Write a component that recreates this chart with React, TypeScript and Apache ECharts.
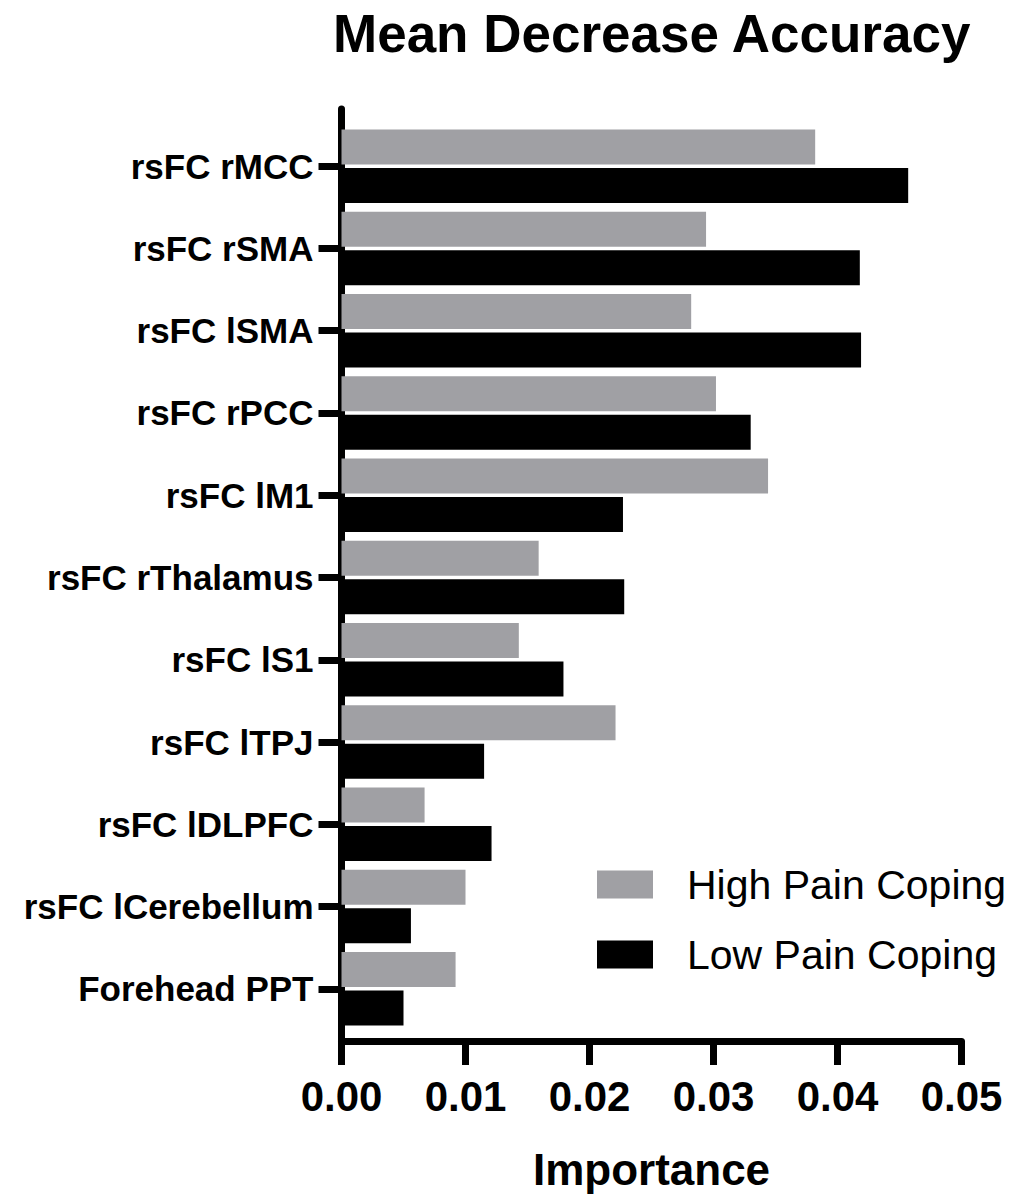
import React, { useEffect, useRef } from "react";
import * as echarts from "echarts";

const categories = [
  "rsFC rMCC",
  "rsFC rSMA",
  "rsFC lSMA",
  "rsFC rPCC",
  "rsFC lM1",
  "rsFC rThalamus",
  "rsFC lS1",
  "rsFC lTPJ",
  "rsFC lDLPFC",
  "rsFC lCerebellum",
  "Forehead PPT",
];
const highPainCoping = [0.0382, 0.0294, 0.0282, 0.0302, 0.0344, 0.0159, 0.0143, 0.0221, 0.0067, 0.01, 0.0092];
const lowPainCoping = [0.0457, 0.0418, 0.0419, 0.033, 0.0227, 0.0228, 0.0179, 0.0115, 0.0121, 0.0056, 0.005];
const xMin = 0;
const xMax = 0.05;
const xInterval = 0.01;

const FONT = "'Liberation Sans', Arial, Helvetica, sans-serif";

export default function App() {
  const ref = useRef<HTMLDivElement>(null);
  useEffect(() => {
    if (!ref.current) return;
    const chart = echarts.init(ref.current, null, { renderer: "svg" });
    chart.setOption({
      animation: false,
      backgroundColor: "#ffffff",
      title: {
        text: "Mean Decrease Accuracy",
        left: 333,
        top: 7,
        padding: 0,
        textStyle: { fontSize: 53, fontWeight: "bold", color: "#000", fontFamily: FONT },
      },
      legend: {
        data: ["High Pain Coping", "Low Pain Coping"],
        orient: "vertical",
        left: 597,
        top: 864,
        padding: 0,
        itemWidth: 56,
        itemHeight: 28,
        itemGap: 29,
        icon: "rect",
        textStyle: { fontSize: 41, color: "#000", fontFamily: FONT, padding: [0, 0, 0, 29] },
      },
      grid: [
        { left: 341.5, top: 125, width: 620, height: 905 },
        { left: 341.5, top: 109, width: 620, height: 932 },
      ],
      xAxis: [
        { gridIndex: 0, type: "value", min: xMin, max: xMax, show: false },
        {
          gridIndex: 1,
          type: "value",
          min: xMin,
          max: xMax,
          interval: xInterval,
          axisLine: { show: true, onZero: false, lineStyle: { color: "#000", width: 7 } },
          axisTick: { show: true, length: 24, lineStyle: { color: "#000", width: 7 } },
          axisLabel: {
            formatter: (v: number) => v.toFixed(2),
            fontSize: 42,
            fontWeight: "bold",
            color: "#000",
            fontFamily: FONT,
            margin: 34,
          },
          splitLine: { show: false },
          name: "Importance",
          nameLocation: "middle",
          nameGap: 106,
          nameTextStyle: { fontSize: 44, fontWeight: "bold", color: "#000", fontFamily: FONT },
        },
      ],
      yAxis: [
        {
          gridIndex: 0,
          type: "category",
          data: categories,
          inverse: true,
          axisLine: { show: false },
          axisTick: { show: true, alignWithLabel: true, interval: 0, length: 23, lineStyle: { color: "#000", width: 7 } },
          axisLabel: {
            interval: 0,
            fontSize: 35,
            fontWeight: "bold",
            color: "#000",
            fontFamily: FONT,
            margin: 28,
          },
          splitLine: { show: false },
        },
        {
          gridIndex: 1,
          type: "value",
          min: 0,
          max: 1,
          axisLine: { show: true, onZero: false, lineStyle: { color: "#000", width: 7 } },
          axisTick: { show: false },
          axisLabel: { show: false },
          splitLine: { show: false },
        },
      ],
      series: [
        {
          name: "High Pain Coping",
          type: "bar",
          xAxisIndex: 0,
          yAxisIndex: 0,
          data: highPainCoping,
          barWidth: 35,
          barGap: "10%",
          itemStyle: { color: "#a0a0a4" },
        },
        {
          name: "Low Pain Coping",
          type: "bar",
          xAxisIndex: 0,
          yAxisIndex: 0,
          data: lowPainCoping,
          barWidth: 35,
          barGap: "10%",
          itemStyle: { color: "#000000" },
        },
      ],
    });
    return () => chart.dispose();
  }, []);
  return (
    <div
      ref={ref}
      style={{ position: "fixed", left: 0, top: 0, width: 1029, height: 1199 }}
    />
  );
}
